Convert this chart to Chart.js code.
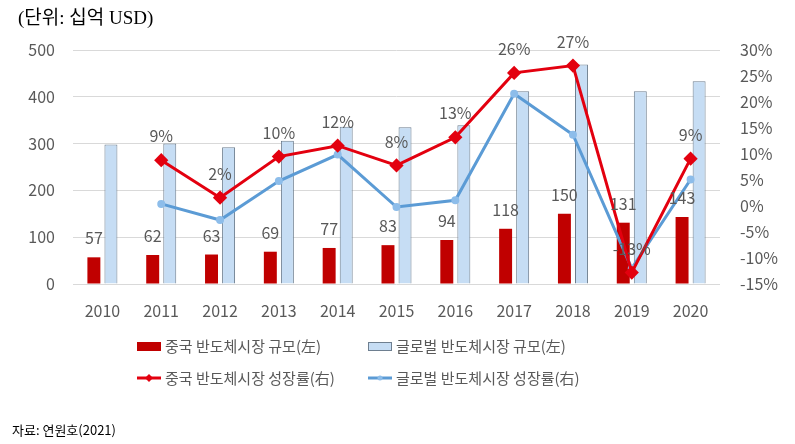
<!DOCTYPE html>
<html>
<head>
<meta charset="utf-8">
<script src="https://cdn.jsdelivr.net/npm/chart.js@4"></script>
<style>
  html, body { margin: 0; padding: 0; background: #fff; }
  #wrap { position: relative; width: 795px; height: 444px; }
  #unit { position: absolute; left: 18px; top: 2px; font: 19px "Liberation Serif", "Noto Sans CJK KR", serif; color: #000; }
  #source { position: absolute; left: 12px; top: 420px; font: 13px "Noto Sans CJK KR", sans-serif; color: #000; }
</style>
</head>
<body>
<div id="wrap">
  <canvas id="chart" width="795" height="444"></canvas>
  <div id="unit">(단위: 십억 USD)</div>
  <div id="source">자료: 연원호(2021)</div>
</div>
<script>
// ------------------------------------------------------------------
//  Data
// ------------------------------------------------------------------
const years = ['2010', '2011', '2012', '2013', '2014', '2015', '2016', '2017', '2018', '2019', '2020'];
const chinaSize = [57, 62, 63, 69, 77, 83, 94, 118, 150, 131, 143];
const globalSize = [298, 300, 292, 306, 336, 335, 339, 412, 469, 412, 433];
const chinaGrowth = [null, 8.8, 1.6, 9.5, 11.6, 7.8, 13.2, 25.6, 27.0, -12.8, 9.1];
const globalGrowth = [null, 0.4, -2.7, 4.8, 9.9, -0.2, 1.1, 21.6, 13.7, -12.0, 5.1];
const chinaGrowthLabels = ['', '9%', '2%', '10%', '12%', '8%', '13%', '26%', '27%', '-13%', '9%'];

const RED_BAR = '#C00000';
const RED_LINE = '#E3000F';
const BLUE_FILL = '#C6DDF4';
const BLUE_EDGE = '#6E7F90';
const BLUE_LINE = '#5B9BD5';
const TEXT_GRAY = '#595959';
const FONT = '"Noto Sans CJK KR", "Noto Sans", sans-serif';

// ------------------------------------------------------------------
//  Plugin: value labels + 2x2 legend drawn on the canvas
// ------------------------------------------------------------------
const labelsAndLegend = {
    id: 'labelsAndLegend',
    afterDatasetsDraw(chart) {
        const ctx = chart.ctx;
        ctx.save();
        ctx.font = '16px ' + FONT;
        ctx.fillStyle = TEXT_GRAY;
        ctx.textAlign = 'center';
        ctx.textBaseline = 'middle';

        // china bar values
        chart.getDatasetMeta(0).data.forEach((bar, i) => {
            ctx.fillText(String(chinaSize[i]), bar.x, bar.y - 19);
        });
        // china growth values
        chart.getDatasetMeta(2).data.forEach((pt, i) => {
            if (chinaGrowth[i] === null) return;
            ctx.fillText(chinaGrowthLabels[i], pt.x, pt.y - 24);
        });
        ctx.restore();
    },
    afterDraw(chart) {
        const ctx = chart.ctx;
        const ds = chart.data.datasets;
        const cols = [137, 368];
        const rows = [346, 378];
        ctx.save();
        ctx.font = '15px ' + FONT;
        ctx.fillStyle = TEXT_GRAY;
        ctx.textBaseline = 'middle';
        ds.forEach((d, i) => {
            const x = cols[i % 2];
            const y = rows[Math.floor(i / 2)];
            if (d.type === 'bar') {
                ctx.fillStyle = d.backgroundColor;
                ctx.fillRect(x, y - 4, 24, 9);
                if (d.borderWidth) {
                    ctx.strokeStyle = d.borderColor;
                    ctx.lineWidth = 1;
                    ctx.strokeRect(x + 0.5, y - 3.5, 23, 8);
                }
            } else {
                ctx.strokeStyle = d.borderColor;
                ctx.lineWidth = 3;
                ctx.beginPath();
                ctx.moveTo(x, y);
                ctx.lineTo(x + 24, y);
                ctx.stroke();
                ctx.fillStyle = d.pointBackgroundColor;
                ctx.beginPath();
                if (d.pointStyle === 'rectRot') {
                    ctx.moveTo(x + 12, y - 4);
                    ctx.lineTo(x + 16, y);
                    ctx.lineTo(x + 12, y + 4);
                    ctx.lineTo(x + 8, y);
                } else {
                    ctx.arc(x + 12, y, 2.5, 0, Math.PI * 2);
                }
                ctx.fill();
            }
            ctx.fillStyle = TEXT_GRAY;
            ctx.textAlign = 'left';
            ctx.fillText(d.label, x + 28, y);
        });
        ctx.restore();
    }
};

// ------------------------------------------------------------------
//  Chart
// ------------------------------------------------------------------
new Chart(document.getElementById('chart'), {
    data: {
        labels: years,
        datasets: [
            {
                type: 'bar',
                label: '중국 반도체시장 규모(左)',
                data: chinaSize,
                yAxisID: 'y',
                backgroundColor: RED_BAR,
                borderWidth: 0,
                categoryPercentage: 0.58,
                barPercentage: 0.76,
                order: 2
            },
            {
                type: 'bar',
                label: '글로벌 반도체시장 규모(左)',
                data: globalSize,
                yAxisID: 'y',
                backgroundColor: BLUE_FILL,
                borderColor: BLUE_EDGE,
                borderWidth: 1,
                categoryPercentage: 0.58,
                barPercentage: 0.76,
                order: 2
            },
            {
                type: 'line',
                label: '중국 반도체시장 성장률(右)',
                data: chinaGrowth,
                yAxisID: 'y1',
                borderColor: RED_LINE,
                borderWidth: 3,
                pointStyle: 'rectRot',
                pointRadius: 5,
                pointBackgroundColor: RED_LINE,
                pointBorderColor: RED_LINE,
                tension: 0,
                order: 0
            },
            {
                type: 'line',
                label: '글로벌 반도체시장 성장률(右)',
                data: globalGrowth,
                yAxisID: 'y1',
                borderColor: BLUE_LINE,
                borderWidth: 3,
                pointStyle: 'circle',
                pointRadius: 2.5,
                pointBackgroundColor: '#8DBDEA',
                pointBorderColor: '#8DBDEA',
                tension: 0,
                order: 1
            }
        ]
    },
    options: {
        responsive: false,
        animation: false,
        layout: { padding: { left: 0, right: 0, top: 50, bottom: 120 } },
        plugins: {
            legend: { display: false },
            tooltip: { enabled: false }
        },
        scales: {
            x: {
                offset: true,
                grid: { display: false },
                border: { display: false },
                ticks: { color: TEXT_GRAY, font: { size: 16, family: FONT }, padding: 9 },
                afterFit: s => { s.height = 40; }
            },
            y: {
                position: 'left',
                min: 0,
                max: 500,
                grid: { color: '#D9D9D9', drawTicks: false },
                border: { display: false },
                ticks: { stepSize: 100, color: TEXT_GRAY, font: { size: 16, family: FONT }, padding: 18 },
                afterFit: s => { s.width = 73; }
            },
            y1: {
                position: 'right',
                min: -15,
                max: 30,
                grid: { display: false, drawTicks: false },
                border: { display: false },
                ticks: {
                    stepSize: 5,
                    color: TEXT_GRAY,
                    font: { size: 16, family: FONT },
                    padding: 20,
                    callback: v => v + '%'
                },
                afterFit: s => { s.width = 75; }
            }
        }
    },
    plugins: [labelsAndLegend]
});
</script>
</body>
</html>
